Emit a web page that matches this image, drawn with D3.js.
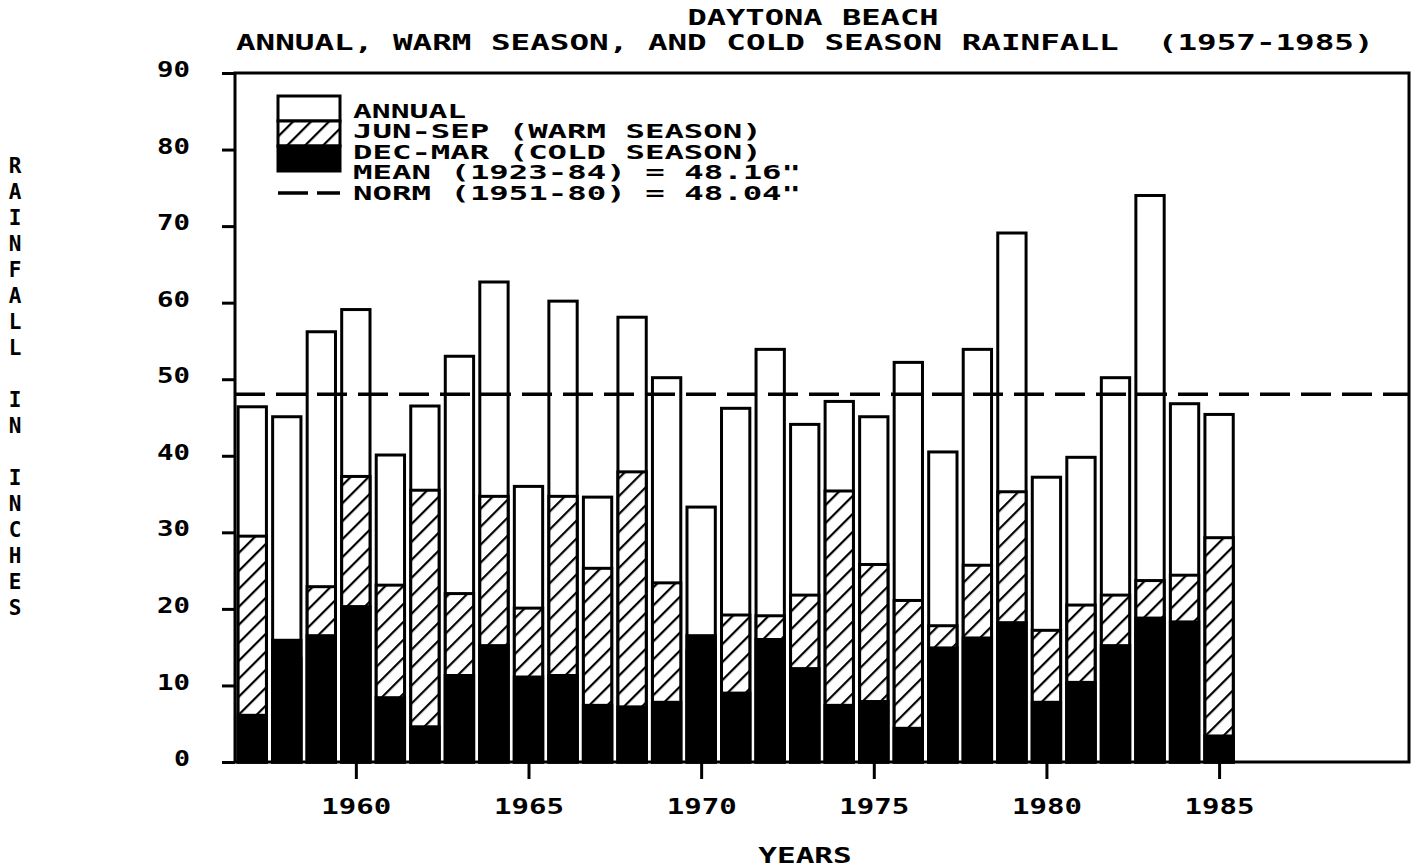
<!DOCTYPE html>
<html>
<head>
<meta charset="utf-8">
<script src="https://cdn.jsdelivr.net/npm/d3@7"></script>
<style>
  body { margin: 0; background: #fff; }
  text { font-family: "DejaVu Sans Mono", monospace; font-weight: bold; fill: #000; white-space: pre; }
  .axis path { display: none; }
  .axis line { stroke: #000; stroke-width: 3; }
</style>
</head>
<body>
<svg id="chart" width="1418" height="867"></svg>
<script>
// values (inches)
const years = [1957, 1958, 1959, 1960, 1961, 1962, 1963, 1964, 1965, 1966, 1967, 1968, 1969, 1970,
  1971, 1972, 1973, 1974, 1975, 1976, 1977, 1978, 1979, 1980, 1981, 1982, 1983, 1984, 1985];
const annual = [46.4, 45.1, 56.2, 59.1, 40.1, 46.5, 53.0, 62.7, 36.0, 60.2, 34.6, 58.1, 50.2, 33.3,
  46.2, 53.9, 44.1, 47.1, 45.1, 52.2, 40.5, 53.9, 69.1, 37.2, 39.8, 50.2, 74.0, 46.8, 45.4];
const warm = [29.5, 13.5, 22.9, 37.3, 23.1, 35.5, 22.0, 34.7, 20.1, 34.7, 25.3, 37.9, 23.4, 14.5,
  19.2, 19.1, 21.8, 35.4, 25.8, 21.1, 17.8, 25.7, 35.3, 17.2, 20.5, 21.8, 23.7, 24.4, 29.3];
const cold = [6.1, 15.9, 16.5, 20.3, 8.4, 4.6, 11.3, 15.2, 11.1, 11.3, 7.4, 7.2, 7.8, 16.5,
  9.0, 16.0, 12.2, 7.4, 7.9, 4.4, 14.9, 16.2, 18.2, 7.8, 10.4, 15.2, 18.8, 18.3, 3.4];
const normValue = 48.04;
const yTicks = [0, 10, 20, 30, 40, 50, 60, 70, 80, 90];
const xTicks = [1960, 1965, 1970, 1975, 1980, 1985];
const titleLines = ["DAYTONA BEACH", "ANNUAL, WARM SEASON, AND COLD SEASON RAINFALL  (1957-1985)"];
const legendLabels = ["ANNUAL", "JUN-SEP (WARM SEASON)", "DEC-MAR (COLD SEASON)",
  "MEAN (1923-84) = 48.16\"", "NORM (1951-80) = 48.04\""];
const yTitle = "RAINFALL IN INCHES";
const xTitle = "YEARS";

const m = { left: 235, right: 1409, top: 73, bottom: 762 };
const charW = 19.7; // plotter letters are wide, stretch the text to match
const fs = 21;
const svg = d3.select("#chart");

const x = d3.scaleLinear().domain([1956.5, 1990.5]).range([m.left, m.right]);
const y = d3.scaleLinear().domain([0, 90]).range([m.bottom, m.top]);
const barW = x(1957.41) - x(1956.59);

// hatch for warm season
const defs = svg.append("defs");
const pat = defs.append("pattern")
  .attr("id", "hatch")
  .attr("patternUnits", "userSpaceOnUse")
  .attr("width", 12.7).attr("height", 12.7)
  .attr("patternTransform", "rotate(45)");
pat.append("rect").attr("width", 12.7).attr("height", 12.7).attr("fill", "#fff");
pat.append("line").attr("x1", 0).attr("y1", 0).attr("x2", 0).attr("y2", 12.7)
  .attr("stroke", "#000").attr("stroke-width", 4.4);

// title
svg.append("text").attr("x", 813).attr("y", 17).attr("dy", "0.36em")
  .attr("text-anchor", "middle")
  .attr("font-size", fs)
  .attr("textLength", titleLines[0].length * charW - 5)
  .attr("lengthAdjust", "spacingAndGlyphs")
  .text(titleLines[0]);
svg.append("text").attr("x", 236).attr("y", 42).attr("dy", "0.36em")
  .attr("font-size", fs)
  .attr("textLength", titleLines[1].length * charW - 5)
  .attr("lengthAdjust", "spacingAndGlyphs")
  .text(titleLines[1]);

// bars: annual, then warm season and cold season drawn over from zero
const bars = svg.append("g").selectAll("g")
  .data(years)
  .enter().append("g");
bars.append("rect")
  .attr("x", (d) => x(d) - barW / 2)
  .attr("y", (d, i) => y(annual[i]))
  .attr("width", barW)
  .attr("height", (d, i) => y(0) - y(annual[i]))
  .attr("fill", "#fff").attr("stroke", "#000").attr("stroke-width", 3);
bars.append("rect")
  .attr("x", (d) => x(d) - barW / 2)
  .attr("y", (d, i) => y(warm[i]))
  .attr("width", barW)
  .attr("height", (d, i) => y(0) - y(warm[i]))
  .attr("fill", "url(#hatch)").attr("stroke", "#000").attr("stroke-width", 3);
bars.append("rect")
  .attr("x", (d) => x(d) - barW / 2)
  .attr("y", (d, i) => y(cold[i]))
  .attr("width", barW)
  .attr("height", (d, i) => y(0) - y(cold[i]))
  .attr("fill", "#000").attr("stroke", "#000").attr("stroke-width", 3);

// norm line
svg.append("line")
  .attr("x1", m.left).attr("x2", m.right)
  .attr("y1", y(normValue)).attr("y2", y(normValue))
  .attr("stroke", "#000").attr("stroke-width", 3.5)
  .attr("stroke-dasharray", "30,11");

// frame
svg.append("rect")
  .attr("x", m.left).attr("y", m.top)
  .attr("width", m.right - m.left).attr("height", m.bottom - m.top)
  .attr("fill", "none").attr("stroke", "#000").attr("stroke-width", 3);

// axes
const yAxis = svg.append("g").attr("class", "axis")
  .attr("transform", "translate(" + m.left + ",0)")
  .call(d3.axisLeft(y).tickValues(yTicks).tickSize(13).tickPadding(32).tickFormat(d3.format("d")));
yAxis.selectAll("text")
  .attr("y", -4).attr("dy", "0.36em")
  .attr("font-size", fs)
  .attr("textLength", (d) => String(d).length * 17 - 1)
  .attr("lengthAdjust", "spacingAndGlyphs");

const xAxis = svg.append("g").attr("class", "axis")
  .attr("transform", "translate(0," + m.bottom + ")")
  .call(d3.axisBottom(x).tickValues(xTicks).tickSize(17).tickFormat(d3.format("d")));
xAxis.selectAll("text")
  .attr("y", 44).attr("dy", "0.36em")
  .attr("font-size", fs)
  .attr("textLength", 70)
  .attr("lengthAdjust", "spacingAndGlyphs");

// axis titles
svg.append("text").attr("x", 805).attr("y", 855).attr("dy", "0.36em")
  .attr("text-anchor", "middle").attr("font-size", fs)
  .attr("textLength", xTitle.length * charW - 5)
  .attr("lengthAdjust", "spacingAndGlyphs")
  .text(xTitle);
svg.append("g").selectAll("text")
  .data(yTitle.split(""))
  .enter().append("text")
  .attr("x", 15)
  .attr("y", (d, i) => 165 + i * 26)
  .attr("dy", "0.36em")
  .attr("text-anchor", "middle")
  .attr("font-size", fs)
  .text((d) => d);

// legend
const lg = svg.append("g");
const boxX = 278, boxW = 62, boxTop = 96, segH = 25;
lg.append("rect").attr("x", boxX).attr("y", boxTop).attr("width", boxW).attr("height", segH)
  .attr("fill", "#fff").attr("stroke", "#000").attr("stroke-width", 3);
lg.append("rect").attr("x", boxX).attr("y", boxTop + segH).attr("width", boxW).attr("height", segH)
  .attr("fill", "url(#hatch)").attr("stroke", "#000").attr("stroke-width", 3);
lg.append("rect").attr("x", boxX).attr("y", boxTop + 2 * segH).attr("width", boxW).attr("height", segH)
  .attr("fill", "#000").attr("stroke", "#000").attr("stroke-width", 3);
lg.append("line")
  .attr("x1", boxX).attr("x2", boxX + boxW)
  .attr("y1", 193).attr("y2", 193)
  .attr("stroke", "#000").attr("stroke-width", 3.5)
  .attr("stroke-dasharray", "30,9");
lg.selectAll("text.lab")
  .data(legendLabels)
  .enter().append("text")
  .attr("class", "lab")
  .attr("x", 353)
  .attr("y", (d, i) => 111 + i * 20.5)
  .attr("dy", "0.36em")
  .attr("font-size", 19)
  .attr("textLength", (d) => d.length * charW - 5)
  .attr("lengthAdjust", "spacingAndGlyphs")
  .text((d) => d);
</script>
</body>
</html>
